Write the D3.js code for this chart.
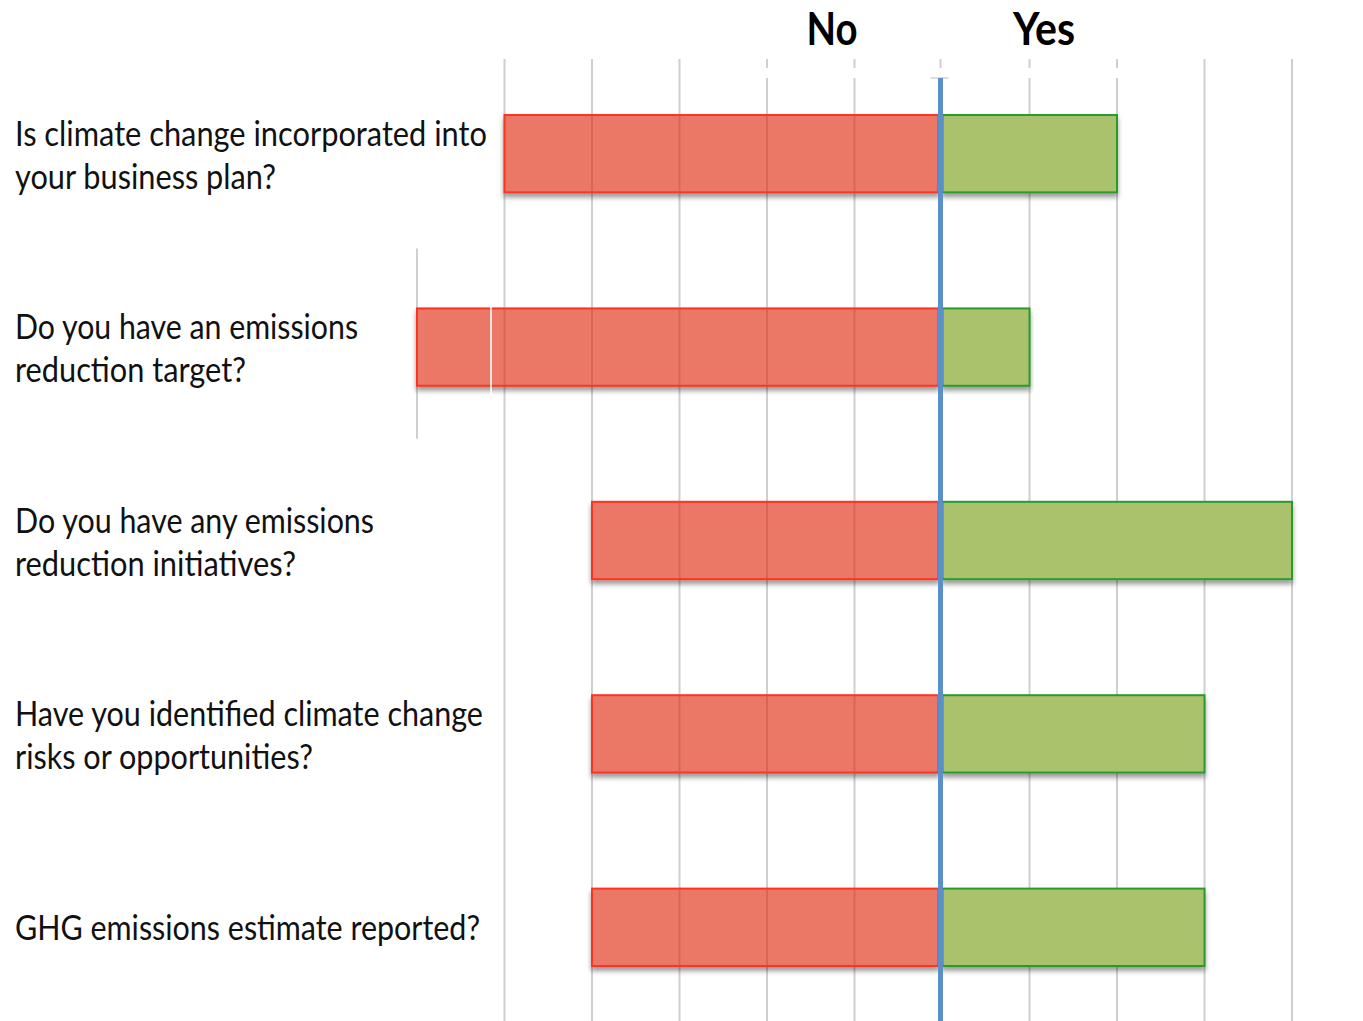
<!DOCTYPE html>
<html><head><meta charset="utf-8">
<script src="https://cdn.jsdelivr.net/npm/d3@7"></script>
<style>body{margin:0;background:#fff}svg{display:block}</style>
</head><body>
<svg id="c" width="1363" height="1021"></svg>
<script>
const questions = [
  ["Is climate change incorporated into", "your business plan?"],
  ["Do you have an emissions", "reduction target?"],
  ["Do you have any emissions", "reduction initiatives?"],
  ["Have you identified climate change", "risks or opportunities?"],
  ["GHG emissions estimate reported?"]
];
const noValues = [5, 6, 4, 4, 4];
const yesValues = [2, 1, 4, 3, 3];
const gridTicks = [-5, -4, -3, -2, -1, 1, 2, 3, 4];
const headers = ["No", "Yes"];
// measured label widths (px) in reference
const labelWidths = [[472, 261], [343, 231], [359, 281], [468, 298], [465]];

const svg = d3.select("#c");
const x = d3.scaleLinear().domain([-6, 4]).range([417, 1292]);
const y = d3.scaleBand().domain(d3.range(questions.length)).range([57, 1024]).paddingInner(0.6).paddingOuter(0.3);
const x0 = x(0) - 1.5;

const defs = svg.append("defs");
const f = defs.append("filter").attr("id", "sh").attr("x", "-5%").attr("y", "-20%").attr("width", "110%").attr("height", "160%");
f.append("feGaussianBlur").attr("in", "SourceAlpha").attr("stdDeviation", 2.5).attr("result", "b");
f.append("feOffset").attr("in", "b").attr("dx", 0).attr("dy", 4).attr("result", "o");
f.append("feComponentTransfer").attr("in", "o").attr("result", "o2").append("feFuncA").attr("type", "linear").attr("slope", 0.4);
const m = f.append("feMerge");
m.append("feMergeNode").attr("in", "o2");
m.append("feMergeNode").attr("in", "SourceGraphic");

// gridlines
const gapTicks = [-2, -1, 1, 2];
const grid = svg.append("g").attr("stroke", "#cfcfcf").attr("stroke-width", 2);
grid.selectAll("line.g").data(gridTicks).join("line")
  .attr("x1", d => x(d)).attr("x2", d => x(d))
  .attr("y1", d => gapTicks.includes(d) ? 78 : 59).attr("y2", 1021);
grid.selectAll("line.t").data(gapTicks).join("line")
  .attr("x1", d => x(d)).attr("x2", d => x(d))
  .attr("y1", 59).attr("y2", 68);
grid.append("line").attr("x1", x0).attr("x2", x0).attr("y1", 59).attr("y2", 68);
// partial gridline at -6 around row 2
grid.append("line").attr("x1", x(-6)).attr("x2", x(-6))
  .attr("y1", y(1) - 60).attr("y2", y(1) + y.bandwidth() + 53);

const bh = y.bandwidth();
// No bars
svg.append("g").selectAll("rect").data(noValues).join("rect")
  .attr("x", d => x(-d)).attr("y", (d, i) => y(i))
  .attr("width", d => x0 - x(-d) - 2).attr("height", bh)
  .attr("fill", "#eb7866").attr("stroke", "#fb3420").attr("stroke-width", 2)
  .attr("filter", "url(#sh)");
// gridlines through red bars
svg.append("g").selectAll("g").data(noValues).join("g").each(function(d, i) {
  d3.select(this).selectAll("line").data(gridTicks.filter(t => t < 0 && t > -d)).join("line")
    .attr("x1", t => x(t)).attr("x2", t => x(t))
    .attr("y1", y(i) + 1).attr("y2", y(i) + bh - 1)
    .attr("stroke", "#b5463a").attr("stroke-opacity", 0.35).attr("stroke-width", 2);
});
// white artifact line on row 2
svg.append("line").attr("x1", 491).attr("x2", 491).attr("y1", y(1) - 5).attr("y2", y(1) + bh + 16)
  .attr("stroke", "#ffffff").attr("stroke-opacity", 0.8).attr("stroke-width", 2);

// Yes bars
svg.append("g").selectAll("rect").data(yesValues).join("rect")
  .attr("x", x0 + 2).attr("y", (d, i) => y(i))
  .attr("width", d => x(d) - x0 - 2).attr("height", bh)
  .attr("fill", "#abc26c").attr("stroke", "#2c9a2c").attr("stroke-width", 2)
  .attr("filter", "url(#sh)");

// center axis line
svg.append("line").attr("x1", x0 - 10).attr("x2", x0 + 8).attr("y1", 78).attr("y2", 78)
  .attr("stroke", "#bbbbbb").attr("stroke-width", 1);
svg.append("line").attr("x1", x0).attr("x2", x0).attr("y1", 78).attr("y2", 1021)
  .attr("stroke", "#5b8fc9").attr("stroke-width", 5);

// headers
const hx = [832, 1044], hw = [51, 62];
svg.selectAll("text.h").data(headers).join("text")
  .attr("x", (d, i) => hx[i]).attr("y", 45).attr("text-anchor", "middle")
  .attr("font-family", "Lato, sans-serif").attr("font-weight", "bold").attr("font-size", 45)
  .attr("textLength", (d, i) => hw[i]).attr("lengthAdjust", "spacingAndGlyphs")
  .attr("fill", "#000").text(d => d);

// labels
const lg = svg.append("g").attr("font-family", "Lato, sans-serif").attr("font-size", 35).attr("fill", "#111");
questions.forEach((lines, i) => {
  const cy = y(i) + bh / 2;
  const n = lines.length;
  lines.forEach((t, j) => {
    const base = n === 1 ? cy + 13 : cy - 8 + (j * 43);
    lg.append("text").attr("x", 15).attr("y", base)
      .attr("textLength", labelWidths[i][j]).attr("lengthAdjust", "spacingAndGlyphs")
      .text(t);
  });
});
</script>
</body></html>
